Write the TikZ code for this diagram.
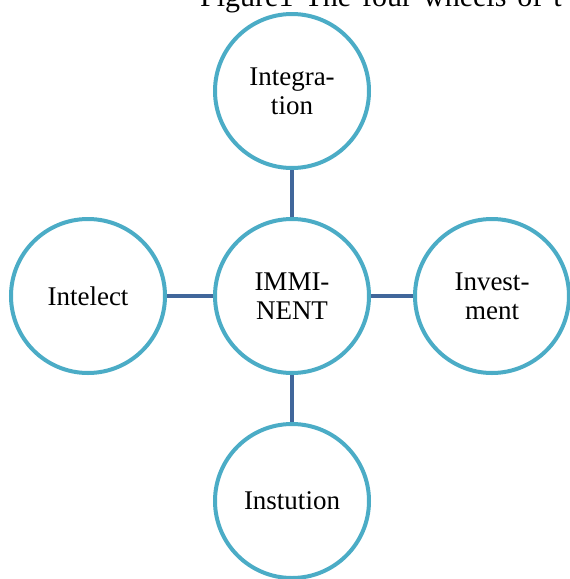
\documentclass[tikz,border=0pt]{standalone}
\usepackage{fontspec}
\setmainfont{Liberation Serif}
\definecolor{ringblue}{HTML}{4BACC6}
\definecolor{linkblue}{HTML}{41679B}
\begin{document}
\begin{tikzpicture}[x=1pt,y=-1pt,
  wheel/.style={circle, draw=ringblue, line width=4pt, fill=white,
    minimum size=154pt, inner sep=0pt, align=center,
    font=\fontsize{27}{29}\selectfont},
  link/.style={draw=linkblue, line width=4pt}]
  \useasboundingbox (0,0) rectangle (570,579);
  % caption line across the top
  \node[anchor=base west, inner sep=0pt, font=\fontsize{30}{32}\selectfont]
    (title) at (200,6) {\spaceskip=11pt Figure1 The four wheels of t};
  % the five wheels
  \node[wheel] (hub) at (292,296) {IMMI-\\NENT};
  \node[wheel] (top) at (292,91) {Integra-\\tion};
  \node[wheel] (left) at (88,296) {Intelect};
  \node[wheel] (right) at (492,296) {Invest-\\ment};
  \node[wheel] (bottom) at (292,501) {Instution};
  % spokes from the hub
  \draw[link] (hub) -- (top);
  \draw[link] (hub) -- (left);
  \draw[link] (hub) -- (right);
  \draw[link] (hub) -- (bottom);
\end{tikzpicture}
\end{document}
